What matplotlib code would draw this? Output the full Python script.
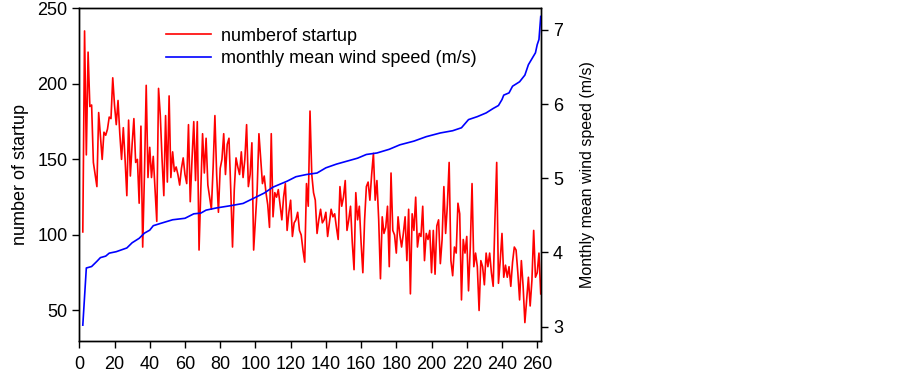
import numpy as np
import matplotlib
matplotlib.use("Agg")
import matplotlib.pyplot as plt

plt.rcParams['font.family'] = ['Liberation Sans', 'DejaVu Sans']

# number of startups per month (months 2..262)
startups = [
    102, 235, 153, 221, 185, 186, 148, 140, 132, 181,
    165, 150, 168, 166, 170, 178, 177, 204, 186, 173,
    189, 167, 150, 171, 150, 126, 176, 139, 160, 177,
    148, 150, 121, 172, 92, 140, 199, 138, 158, 138,
    152, 130, 109, 197, 179, 150, 126, 179, 135, 192,
    138, 155, 142, 145, 140, 133, 144, 151, 140, 134,
    173, 122, 150, 175, 136, 175, 90, 130, 167, 141,
    164, 133, 125, 117, 145, 179, 140, 115, 144, 150,
    167, 140, 160, 164, 130, 92, 130, 151, 145, 140,
    155, 138, 150, 173, 132, 140, 161, 90, 110, 130,
    167, 150, 134, 139, 128, 120, 105, 167, 112, 128,
    125, 130, 120, 110, 125, 134, 103, 115, 123, 99,
    108, 110, 115, 103, 100, 90, 82, 134, 119, 182,
    140, 128, 123, 101, 110, 117, 108, 110, 115, 99,
    108, 117, 112, 114, 105, 97, 132, 119, 125, 136,
    103, 110, 119, 95, 77, 128, 110, 119, 95, 75,
    110, 132, 135, 123, 140, 154, 123, 136, 110, 71,
    112, 101, 105, 119, 79, 141, 103, 100, 88, 112,
    100, 92, 101, 112, 83, 117, 61, 114, 103, 125,
    92, 101, 99, 119, 83, 101, 97, 103, 75, 103,
    74, 106, 110, 81, 97, 132, 101, 120, 148, 83,
    73, 92, 88, 121, 114, 57, 97, 88, 99, 63,
    92, 134, 79, 88, 79, 50, 83, 79, 67, 88,
    79, 88, 75, 66, 110, 148, 68, 83, 101, 72,
    80, 72, 79, 66, 82, 92, 90, 75, 57, 83,
    66, 42, 57, 72, 53, 70, 103, 72, 75, 88,
    61,
]
months = np.arange(2, 2 + len(startups))

# monthly mean wind speed (sorted), read at points along the curve
wind_month = [2, 4, 7, 10, 12, 15, 17, 21, 27, 30, 34, 37, 40, 42, 46, 53, 60, 65,
              69, 72, 78, 86, 93, 99, 105, 110, 118, 123, 129, 135, 140, 146, 152,
              158, 163, 169, 176, 182, 190, 197, 205, 212, 217, 221, 226, 231, 235,
              238, 240, 241, 244, 246, 250, 253, 255, 257, 259, 260, 261, 262]
wind_speed = [3.02, 3.79, 3.81, 3.88, 3.93, 3.95, 3.99, 4.01, 4.06, 4.13, 4.19, 4.26,
              4.30, 4.36, 4.39, 4.44, 4.46, 4.52, 4.53, 4.57, 4.60, 4.63, 4.66, 4.73,
              4.80, 4.88, 4.96, 5.02, 5.05, 5.07, 5.14, 5.19, 5.23, 5.27, 5.32, 5.34,
              5.39, 5.45, 5.50, 5.56, 5.61, 5.64, 5.68, 5.79, 5.83, 5.88, 5.94, 5.98,
              6.06, 6.12, 6.15, 6.24, 6.30, 6.39, 6.53, 6.61, 6.69, 6.80, 6.87, 7.18]

xticks = list(range(0, 261, 20))
yticks_left = [50, 100, 150, 200, 250]
yticks_right = [3, 4, 5, 6, 7]

fig = plt.figure(figsize=(9.03, 3.74), dpi=100)
ax = fig.add_axes([0.0878, 0.089, 0.5116, 0.8888])
ax2 = ax.twinx()

l1, = ax.plot(months, startups, color='#ff0000', lw=1.2, label='numberof startup')
l2, = ax2.plot(wind_month, wind_speed, color='#0000ff', lw=1.2,
               label='monthly mean wind speed (m/s)')

ax.set_xlim(0, 262.3)
ax.set_ylim(30, 250)
ax2.set_ylim(2.81, 7.29)
ax.set_xticks(xticks)
ax.set_yticks(yticks_left)
ax2.set_yticks(yticks_right)

for a in (ax, ax2):
    a.tick_params(direction='out', length=5, width=1, labelsize=13, colors='black')
    for s in a.spines.values():
        s.set_linewidth(1)
        s.set_color('black')
ax.tick_params(axis='x', pad=6)

ax.set_ylabel('number of startup', fontsize=13, labelpad=6)
ax2.set_ylabel('Monthly mean wind speed (m/s)', fontsize=11.5, labelpad=12)

fig.legend(handles=[l1, l2], loc='upper left', bbox_to_anchor=(0.176, 0.945),
           frameon=False, fontsize=13, handlelength=2.5, handletextpad=0.55,
           labelspacing=0.3, borderaxespad=0)

fig.savefig('out.png', dpi=100)
